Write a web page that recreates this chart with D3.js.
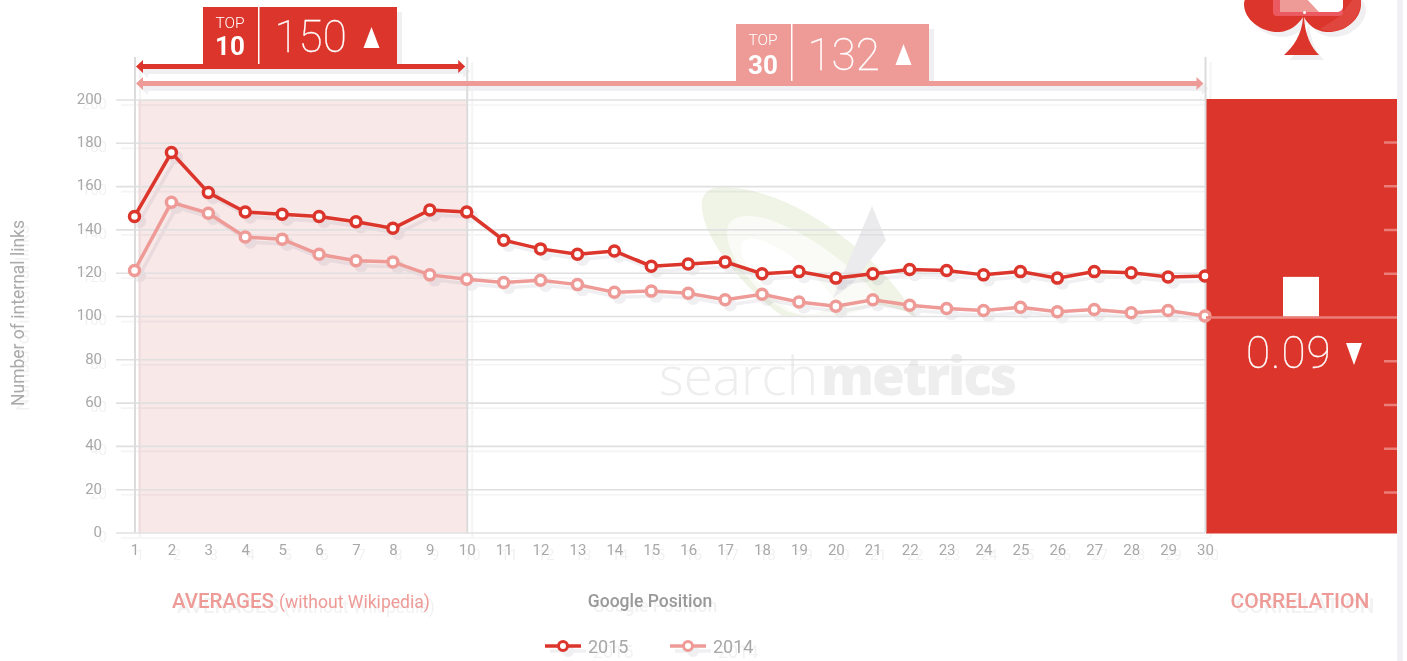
<!DOCTYPE html>
<html><head><meta charset="utf-8">
<script src="https://cdn.jsdelivr.net/npm/d3@7/dist/d3.min.js"></script>
<style>html,body{margin:0;padding:0;background:#fff;overflow:hidden}svg{display:block;font-family:Roboto,sans-serif}</style>
</head><body><svg id="c" width="1407" height="661"></svg>
<script>
const positions = d3.range(1,31);
const values2015 = [146,175.5,157,148,147,146,143.5,140.5,149,148,135,131,128.5,130,123,124,125,119.5,120.5,117.5,119.5,121.5,121,119,120.5,117.5,120.5,120,118,118.5];
const values2014 = [121,152.5,147.5,136.5,135.5,128.5,125.5,125,119,117,115.5,116.5,114.5,111,111.5,110.5,107.5,110,106.5,104.5,107.5,105,103.5,102.5,104,102,103,101.5,102.5,100];
const yTicks = [0,20,40,60,80,100,120,140,160,180,200];
const top10 = {label:"10", value:"150"};
const top30 = {label:"30", value:"132"};
const correlation = 0.09;
const corrTicks = [-0.4,-0.3,-0.2,-0.1,0.1,0.2,0.3,0.4];

const RED="#dc352b", PINK="#ee9b97", SHADOW="#f0f0f3", LINESH="#f4f4f5", TXTSH="#f2f2f3";
const svg=d3.select("#c");
const x=d3.scaleLinear().domain([1,30]).range([134.5,1205]);
const y=d3.scaleLinear().domain([0,200]).range([532.5,99.5]);
const yc=d3.scaleLinear().domain([-0.5,0.5]).range([536,98.5]);

// right-hand strip
svg.append("rect").attr("x",1397).attr("y",0).attr("width",6).attr("height",661).attr("fill","#f1f1f4");

// shaded top-10 band sits under the shadow layer
svg.append("rect").attr("x",138).attr("y",100).attr("width",329).attr("height",432.5).attr("fill","#f8e8e8");

// watermark
const wm=svg.append("g");
wm.append("path").attr("fill","#f0f4e6").attr("d","M917 318C885 265 840 232 807 213C775 195 745 187 722 187C706 187 700 197 702 210C706 240 740 285 782 316C795 318 800 316 805 318C850 300 890 300 917 318Z");
wm.append("path").attr("fill","#fafbf6").attr("d","M880 300C850 262 805 232 770 220C745 212 727 216 727 232C727 255 750 285 778 306C800 322 850 322 880 300Z");
wm.append("path").attr("fill","#ffffff").attr("d","M835 300C815 272 785 248 760 240C745 236 738 243 742 255C748 272 768 295 790 310C805 318 825 315 835 300Z");
wm.append("path").attr("fill","#ebebed").attr("d","M872 206L886 240L852 284L833 298Z");
const wt=wm.append("text").attr("x",659).attr("y",395).attr("font-size",53).attr("fill","#eeeeef").attr("font-family","'Open Sans',sans-serif");
wt.append("tspan").attr("font-weight",300).attr("letter-spacing",0).text("search");
wt.append("tspan").attr("font-weight",800).attr("letter-spacing",-2).attr("dx",3).text("metrics");

function chart(g,sh){
  const c=(col)=>sh?SHADOW:col, lc=(col)=>sh?LINESH:col, tc=(col)=>sh?TXTSH:col;
  // grid and axes
  const ya=g.append("g").attr("transform","translate(116,0)")
    .call(d3.axisRight(y).tickValues(yTicks).tickSize(1089).tickFormat(d=>""));
  ya.select(".domain").remove();
  ya.selectAll("line").attr("stroke",lc("#e0e0e0")).attr("stroke-width",1.6);
  const yl=g.append("g").attr("transform","translate(102,-1)")
    .call(d3.axisLeft(y).tickValues(yTicks).tickSize(0).tickPadding(0));
  yl.select(".domain").remove();
  yl.selectAll("text").attr("fill",tc("#a8a8a8")).attr("font-size",15).attr("font-family","Roboto");
  const xa=g.append("g").attr("transform","translate(0,532.5)")
    .call(d3.axisBottom(x).tickValues(positions).tickSize(0).tickPadding(12).tickFormat(d3.format("d")));
  xa.select(".domain").remove();
  xa.selectAll("text").attr("fill",tc("#a8a8a8")).attr("font-size",15).attr("font-family","Roboto");
  // verticals
  g.selectAll(".v").data([[1,57],[10,57],[30,57]]).join("line")
    .attr("x1",d=>x(d[0])+0.5).attr("x2",d=>x(d[0])+0.5).attr("y1",d=>d[1]).attr("y2",532.5)
    .attr("stroke",lc("#dcdcdc")).attr("stroke-width",2);
  // range arrows
  const arrow=(x0,x1,yy,col)=>{
    g.append("rect").attr("x",x0+3).attr("y",yy-2.5).attr("width",x1-x0-6).attr("height",5).attr("fill",c(col));
    g.append("path").attr("fill",c(col)).attr("d",`M${x0} ${yy}L${x0+7} ${yy-6.5}V${yy+6.5}Z M${x1} ${yy}L${x1-7} ${yy-6.5}V${yy+6.5}Z`);
  };
  arrow(x(1)+1.5,x(10)-1.5,66.5,RED);
  arrow(x(1)+1.5,x(30)-1.5,83.5,PINK);
  // badges
  const badge=(bx,by,bh,w,col,d,dy)=>{
    g.append("rect").attr("x",bx).attr("y",by).attr("width",w).attr("height",bh).attr("fill",c(col));
    if(sh) return;
    g.append("rect").attr("x",bx+55).attr("y",by).attr("width",1.5).attr("height",bh-5).attr("fill","#fff");
    g.append("text").attr("x",bx+27).attr("y",by+21).attr("text-anchor","middle").attr("font-size",15.5).attr("font-weight",300).attr("fill","#fff").text("TOP");
    g.append("text").attr("x",bx+27).attr("y",by+48+dy).attr("text-anchor","middle").attr("font-size",26).attr("font-weight",700).attr("fill","#fff").text(d.label);
    g.append("text").attr("x",bx+71.5).attr("y",by+45+dy/2).attr("font-size",44).attr("font-weight",100).attr("fill","#fff").attr("stroke","#fff").attr("stroke-width",0.3).text(d.value);
    g.append("path").attr("fill","#fff").attr("d",`M${bx+w-25.5} ${by+20}L${bx+w-17.5} ${by+41}H${bx+w-33.5}Z`);
  };
  badge(203,7,62,194,RED,top10,0);
  badge(736,24,62,193,PINK,top30,2);
  // titles
  g.append("text").attr("transform","translate(24,313) rotate(-90)").attr("text-anchor","middle").attr("font-size",17.5).attr("font-weight",400).attr("fill",tc("#aaaaaa")).text("Number of internal links");
  const av=g.append("text").attr("x",172).attr("y",608).attr("fill",tc(PINK));
  av.append("tspan").attr("font-size",20.5).attr("font-weight",500).text("AVERAGES ");
  av.append("tspan").attr("font-size",17.6).text("(without Wikipedia)");
  g.append("text").attr("x",650).attr("y",607).attr("text-anchor","middle").attr("font-size",17.5).attr("font-weight",500).attr("fill",tc("#999999")).text("Google Position");
  g.append("text").attr("x",1300).attr("y",608).attr("text-anchor","middle").attr("font-size",21).attr("font-weight",500).attr("fill",tc(PINK)).text("CORRELATION");
  // series
  const line=d3.line().x((d,i)=>x(positions[i])).y(d=>y(d));
  [[values2014,PINK],[values2015,RED]].forEach(([vals,col])=>{
    g.append("path").datum(vals).attr("d",line).attr("fill","none").attr("stroke",c(col)).attr("stroke-width",3.5);
    g.selectAll(null).data(vals).join("circle").attr("cx",(d,i)=>x(positions[i])).attr("cy",d=>y(d)).attr("r",5)
      .attr("fill",sh?SHADOW:"#fff").attr("stroke",c(col)).attr("stroke-width",3.5);
  });
  // legend
  [[545,"2015",RED,588],[670,"2014",PINK,713]].forEach(([lx,t,col,tx])=>{
    g.append("line").attr("x1",lx).attr("x2",lx+36).attr("y1",646).attr("y2",646).attr("stroke",c(col)).attr("stroke-width",3.5);
    g.append("circle").attr("cx",lx+18).attr("cy",646).attr("r",4.5).attr("fill",sh?SHADOW:"#fff").attr("stroke",c(col)).attr("stroke-width",3);
    g.append("text").attr("x",tx).attr("y",653).attr("font-size",18).attr("fill",tc("#a8a8a8")).text(t);
  });
  // spade
  const sp="M1304 -40C1275 -10 1244 -12 1244 4C1244 20 1262 33 1280 32C1290 31 1298 25 1303 17C1302 35 1293 47 1284 55H1319C1311 47 1305 35 1304 17C1308 25 1316 31 1326 32C1344 33 1361 20 1361 4C1361 -12 1333 -10 1304 -40Z";
  g.append("path").attr("d",sp).attr("fill",c(RED));
  if(!sh){
    g.append("path").attr("d","M1340 16L1352 0H1361C1361 14 1352 26 1340 30C1333 32 1325 31 1320 29Z").attr("fill","#e0463d");
    g.append("rect").attr("x",1273).attr("y",-10).attr("width",70).attr("height",26).attr("rx",4).attr("fill","#ea5a60");
    g.append("path").attr("d","M1280 -5H1306L1322 12H1280Z").attr("fill","#ee9b97");
    g.append("path").attr("d","M1303 -5H1343V6C1343 10 1340 12 1336 12H1319Z").attr("fill","#fff");
    g.append("circle").attr("cx",1304.5).attr("cy",12.5).attr("r",1.5).attr("fill","#fff");
  }
}
chart(svg.append("g").attr("transform","translate(5,5)").style("mix-blend-mode","multiply"),true);

// correlation panel goes between shadow and main chart
svg.append("rect").attr("x",1206).attr("y",99).attr("width",191).attr("height",434.5).attr("fill",RED);

chart(svg.append("g"),false);

const overlay=svg.append("g");
overlay.selectAll("rect.t").data(corrTicks).join("rect").attr("class","t")
  .attr("x",1384).attr("width",13).attr("y",d=>yc(d)-1).attr("height",2.5).attr("fill","#ea7f79");
overlay.append("rect").attr("x",1206).attr("width",191).attr("y",yc(0)-1).attr("height",2.5).attr("fill","#ea7f79");
overlay.append("rect").attr("x",1283).attr("width",36).attr("y",yc(correlation)-1).attr("height",yc(0)-yc(correlation)).attr("fill","#fff");
overlay.append("text").attr("x",1246).attr("y",368).attr("font-size",44).attr("letter-spacing",1).attr("font-weight",100).attr("fill","#fff").attr("stroke","#fff").attr("stroke-width",0.3).text(correlation.toFixed(2));
overlay.append("path").attr("fill","#fff").attr("d","M1346 343H1362L1354 365Z");
</script></body></html>
